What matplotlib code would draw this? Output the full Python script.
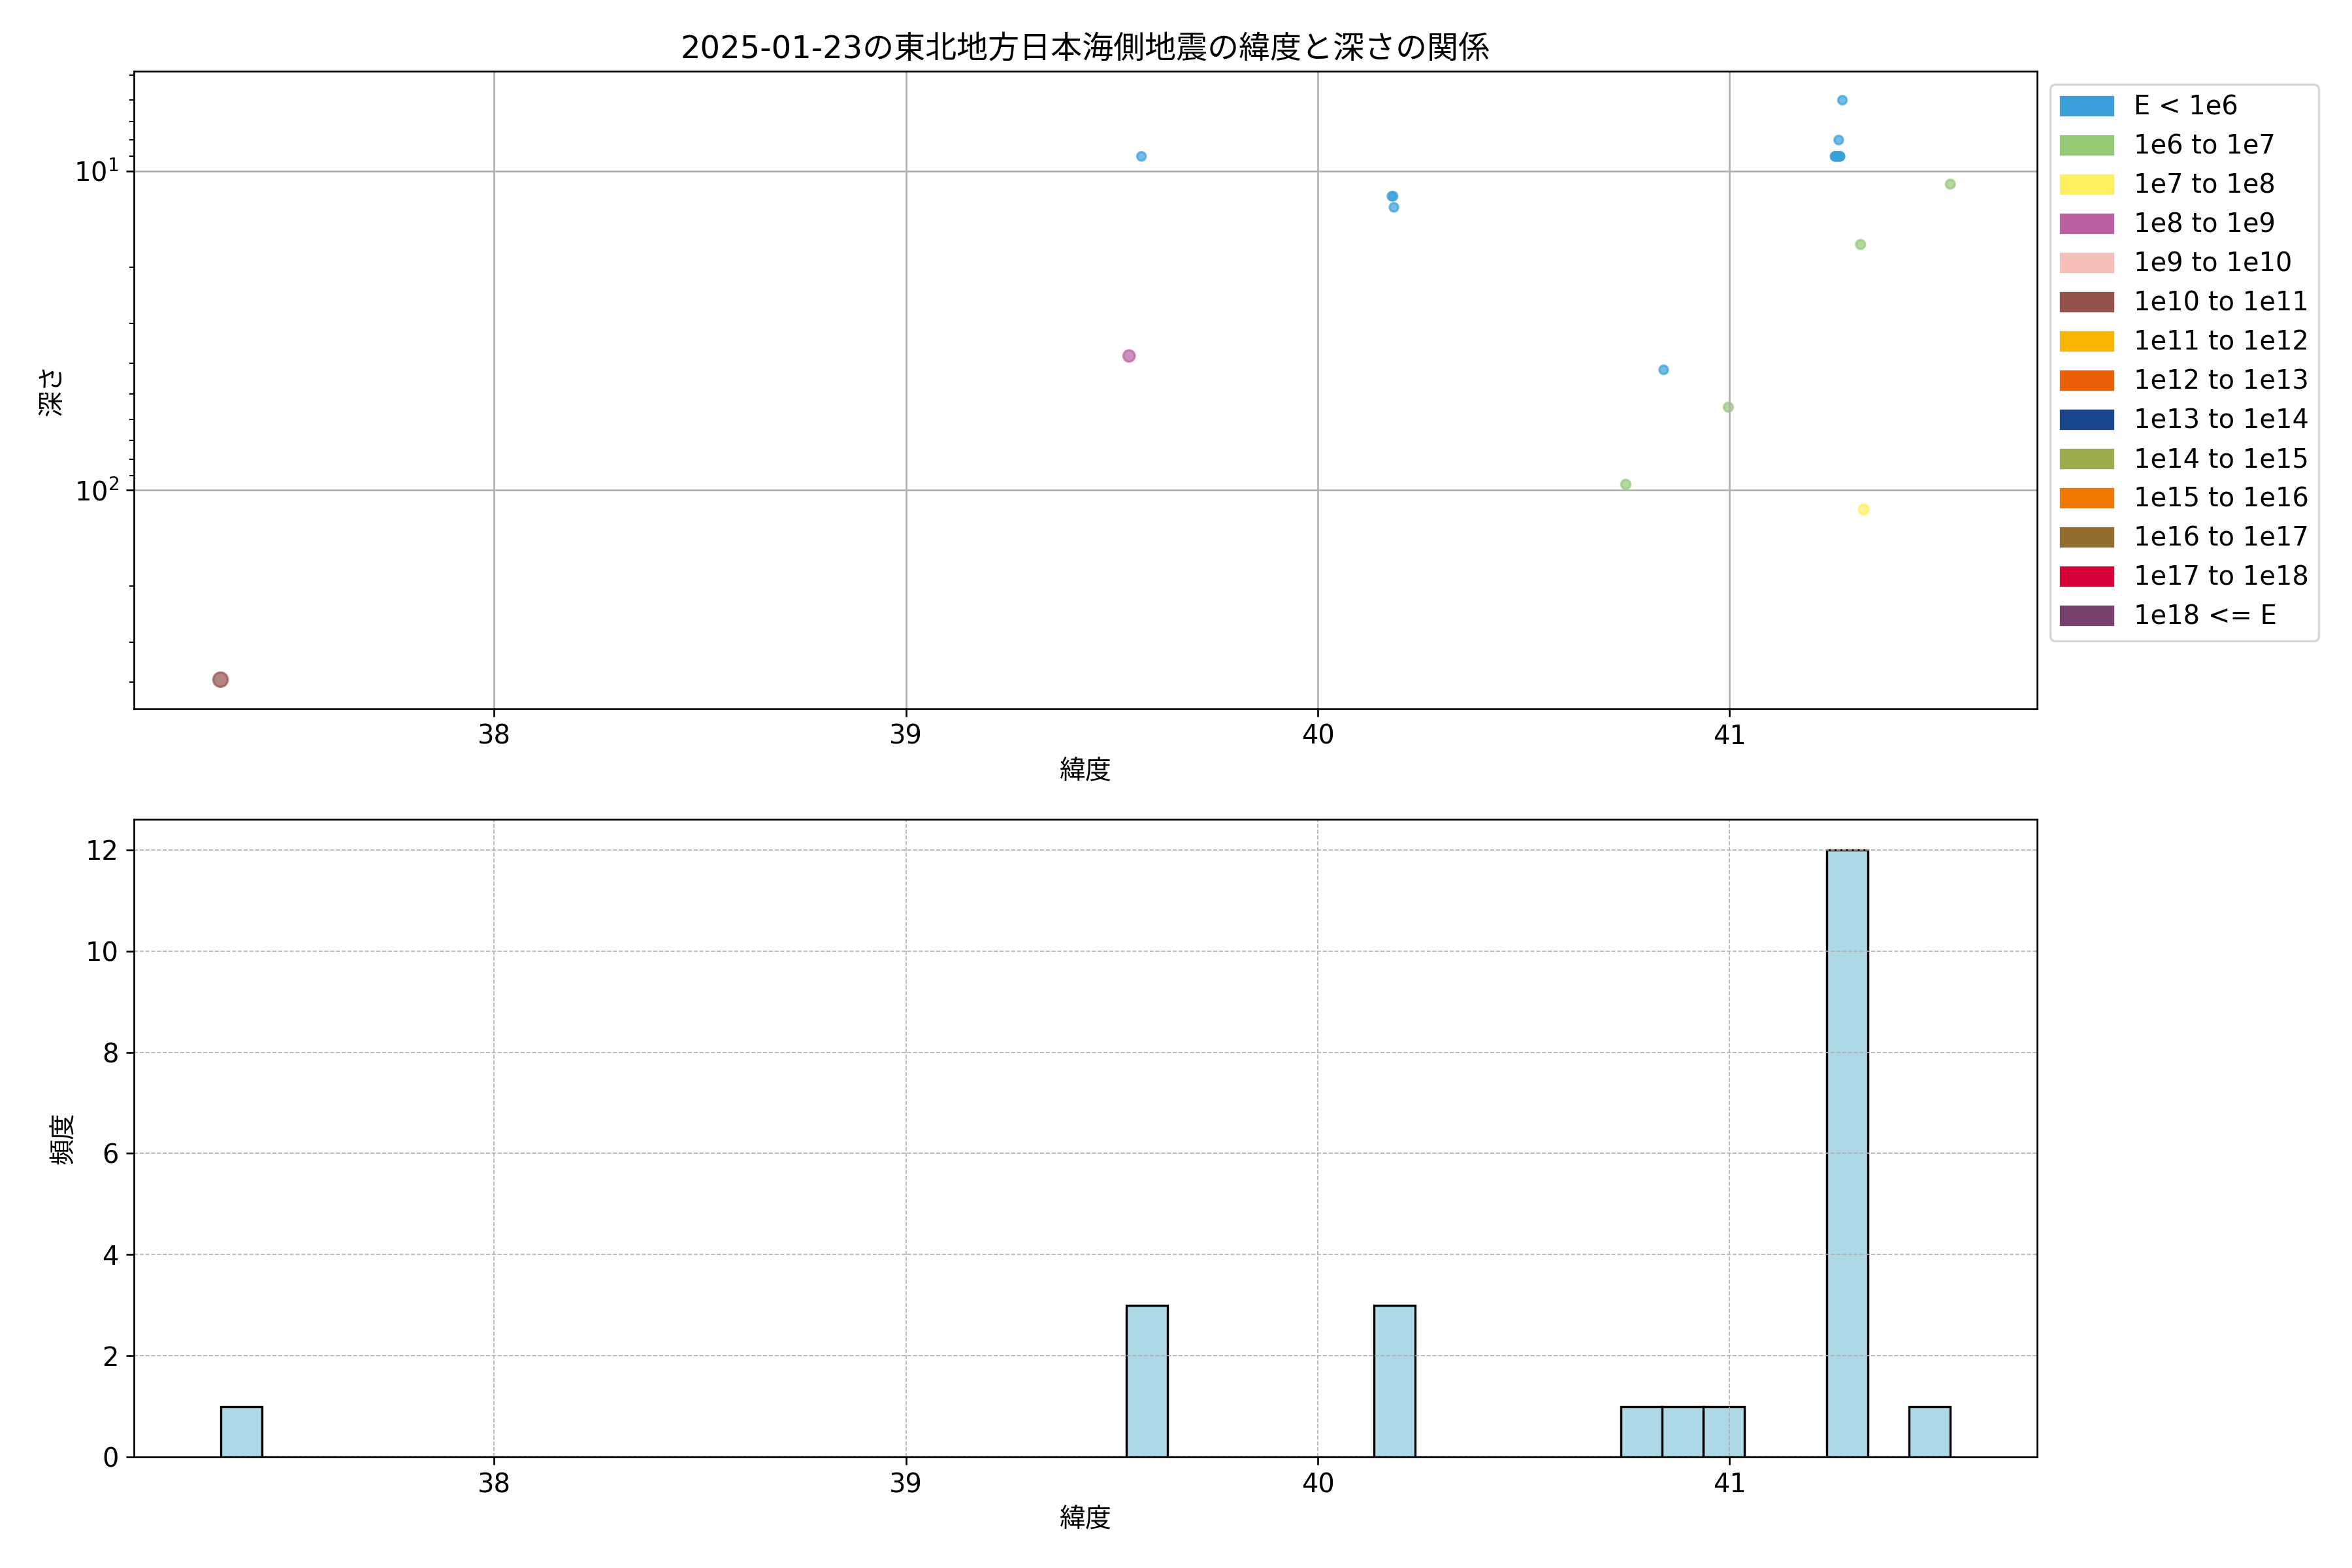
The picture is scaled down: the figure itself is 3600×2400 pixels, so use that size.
import matplotlib.pyplot as plt
from matplotlib.patches import Patch
import numpy as np

plt.rcParams['font.family'] = ['DejaVu Sans', 'Noto Sans CJK JP']
plt.rcParams['font.size'] = 12

# 緯度, 深さ(km), マグニチュード  (深さ0は対数軸に出ない)
latitude = [37.336, 39.542, 39.572, 39.600, 40.180, 40.183, 40.185,
            40.748, 40.840, 40.997,
            41.274, 41.265, 41.256, 41.257, 41.258, 41.260, 41.263,
            41.266, 41.268, 41.268, 41.318, 41.326, 41.536]
depth = [393, 38, 9, 0, 12, 12, 13,
         96, 42, 55,
         6, 8, 9, 9, 9, 9, 9,
         9, 9, 9, 17, 115, 11]
magnitude = [3.8, 2.5, 0.6, 0.5, 0.5, 0.5, 0.6,
             1.2, 0.6, 1.1,
             0.5, 0.6, 0.5, 0.4, 0.6, 0.5, 0.3,
             0.5, 0.6, 0.4, 1.0, 1.8, 1.0]

energy_labels = ['E < 1e6', '1e6 to 1e7', '1e7 to 1e8', '1e8 to 1e9', '1e9 to 1e10',
                 '1e10 to 1e11', '1e11 to 1e12', '1e12 to 1e13', '1e13 to 1e14',
                 '1e14 to 1e15', '1e15 to 1e16', '1e16 to 1e17', '1e17 to 1e18',
                 '1e18 <= E']
energy_colors = ['#3aa0da', '#94ca76', '#fff060', '#ba60a0', '#f5beb9',
                 '#94504b', '#f8b600', '#eb5f05', '#19468c', '#9bab4d',
                 '#f07800', '#916e2d', '#d70037', '#78416e']

lat = np.array(latitude)
dep = np.array(depth, dtype=float)
mag = np.array(magnitude)

# エネルギー(J) -> 区分
energy = 10 ** (1.5 * mag + 4.8)
cls = np.clip(np.floor(np.log10(energy)).astype(int) - 5, 0, 13)
colors = [energy_colors[c] for c in cls]
sizes = 15 + 2 * mag ** 2

fig, (ax1, ax2) = plt.subplots(2, 1, figsize=(15, 10))
fig.subplots_adjust(left=0.057, right=0.866, top=0.9546, bottom=0.0708, hspace=0.174)

ok = dep > 0
ax1.scatter(lat[ok], dep[ok], c=np.array(colors)[ok], s=sizes[ok], alpha=0.7)
ax1.set_yscale('log')
ax1.invert_yaxis()
ax1.set_title('2025-01-23の東北地方日本海側地震の緯度と深さの関係')
ax1.set_xlabel('緯度')
ax1.set_ylabel('深さ')
ax1.grid(True)
handles = [Patch(color=c, label=l) for c, l in zip(energy_colors, energy_labels)]
ax1.legend(handles=handles, loc='upper left', bbox_to_anchor=(1, 1))

ax2.hist(lat, bins=42, color='lightblue', edgecolor='black')
ax2.set_xlabel('緯度')
ax2.set_ylabel('頻度')
ax2.grid(True, linestyle='--', linewidth=0.5)

plt.savefig('out.png', dpi=240)
